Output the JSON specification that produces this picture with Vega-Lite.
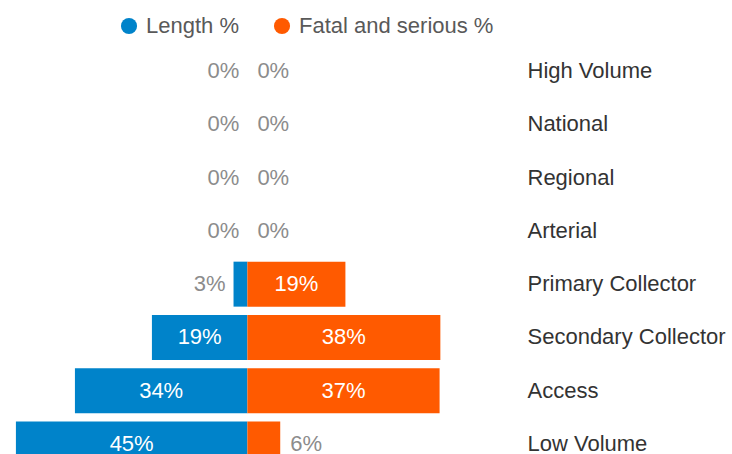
{
  "$schema": "https://vega.github.io/schema/vega-lite/v6.json",
  "autosize": {"type": "none"},
  "padding": {"left": 0, "top": 48, "right": 228, "bottom": 0},
  "width": 504,
  "height": 406,
  "config": {
    "view": {"stroke": null},
    "font": "Liberation Sans",
    "text": {"font": "Liberation Sans"}
  },
  "data": {
    "values": [
      {"cat": "High Volume", "series": "Length %", "v": 0, "label": "0%"},
      {"cat": "National", "series": "Length %", "v": 0, "label": "0%"},
      {"cat": "Regional", "series": "Length %", "v": 0, "label": "0%"},
      {"cat": "Arterial", "series": "Length %", "v": 0, "label": "0%"},
      {"cat": "Primary Collector", "series": "Length %", "v": -2.7, "label": "3%"},
      {"cat": "Secondary Collector", "series": "Length %", "v": -18.6, "label": "19%"},
      {"cat": "Access", "series": "Length %", "v": -33.6, "label": "34%"},
      {"cat": "Low Volume", "series": "Length %", "v": -45.1, "label": "45%"},
      {"cat": "High Volume", "series": "Fatal and serious %", "v": 0, "label": "0%"},
      {"cat": "National", "series": "Fatal and serious %", "v": 0, "label": "0%"},
      {"cat": "Regional", "series": "Fatal and serious %", "v": 0, "label": "0%"},
      {"cat": "Arterial", "series": "Fatal and serious %", "v": 0, "label": "0%"},
      {"cat": "Primary Collector", "series": "Fatal and serious %", "v": 19.1, "label": "19%"},
      {"cat": "Secondary Collector", "series": "Fatal and serious %", "v": 37.6, "label": "38%"},
      {"cat": "Access", "series": "Fatal and serious %", "v": 37.45, "label": "37%"},
      {"cat": "Low Volume", "series": "Fatal and serious %", "v": 6.4, "label": "6%"}
    ]
  },
  "encoding": {
    "y": {
      "field": "cat",
      "type": "nominal",
      "sort": ["High Volume", "National", "Regional", "Arterial", "Primary Collector", "Secondary Collector", "Access", "Low Volume"],
      "scale": {"range": [0.5, 418.5], "paddingInner": 0.156, "paddingOuter": 0},
      "axis": {
        "orient": "right",
        "title": null,
        "domain": false,
        "ticks": false,
        "labelAlign": "left",
        "labelPadding": 23,
        "labelFontSize": 22,
        "labelColor": "#333333",
        "labelFont": "Liberation Sans",
        "labelLimit": 400
      }
    }
  },
  "layer": [
    {
      "mark": {"type": "bar"},
      "encoding": {
        "x": {"field": "v", "type": "quantitative", "scale": {"domain": [-48.2, 50], "nice": false, "zero": true}, "axis": null},
        "color": {
          "field": "series",
          "type": "nominal",
          "scale": {"domain": ["Length %", "Fatal and serious %"], "range": ["#0083CA", "#FF5A00"]},
          "legend": {
            "orient": "none",
            "legendX": 118,
            "legendY": -33,
            "direction": "horizontal",
            "title": null,
            "symbolType": "circle",
            "symbolSize": 260,
            "symbolStrokeWidth": 0,
            "labelFontSize": 22,
            "labelColor": "#595959",
            "labelFont": "Liberation Sans",
            "labelOffset": 6,
            "labelLimit": 400,
            "columnPadding": 32
          }
        }
      }
    },
    {
      "transform": [
        {"filter": "datum.v <= -10 || datum.v >= 10"},
        {"calculate": "datum.v / 2", "as": "mid"}
      ],
      "mark": {"type": "text", "align": "center", "baseline": "middle", "fontSize": 22, "color": "#ffffff"},
      "encoding": {
        "x": {"field": "mid", "type": "quantitative"},
        "text": {"field": "label"}
      }
    },
    {
      "transform": [{"filter": "datum.series == 'Length %' && datum.v > -10"}],
      "mark": {"type": "text", "align": "right", "baseline": "middle", "dx": -8, "fontSize": 22, "color": "#8c8c8c"},
      "encoding": {
        "x": {"field": "v", "type": "quantitative"},
        "text": {"field": "label"}
      }
    },
    {
      "transform": [{"filter": "datum.series == 'Fatal and serious %' && datum.v < 10"}],
      "mark": {"type": "text", "align": "left", "baseline": "middle", "dx": 10, "fontSize": 22, "color": "#8c8c8c"},
      "encoding": {
        "x": {"field": "v", "type": "quantitative"},
        "text": {"field": "label"}
      }
    },
    {
      "mark": {"type": "rule", "color": "#999999", "strokeWidth": 2},
      "encoding": {
        "x": {"datum": 0, "type": "quantitative"}
      }
    }
  ]
}
